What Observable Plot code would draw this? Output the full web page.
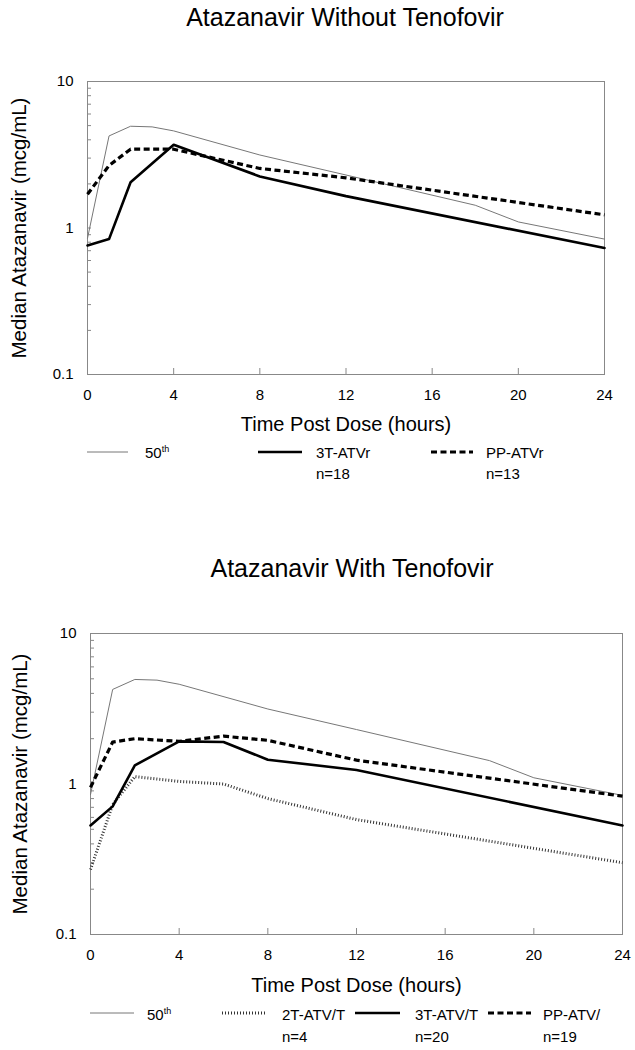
<!DOCTYPE html>
<html><head><meta charset="utf-8">
<script src="https://cdn.jsdelivr.net/npm/d3@7"></script>
<script src="https://cdn.jsdelivr.net/npm/@observablehq/plot@0.6"></script>
<style>
body{margin:0;background:#fff;font-family:"Liberation Sans",Arial,sans-serif;color:#000;}
#page{position:relative;width:635px;height:1050px;overflow:hidden;}
.abs{position:absolute;white-space:nowrap;}
.title{font-size:25px;line-height:30px;text-align:center;}
.leg{font-size:15px;line-height:18px;}
.leg sup{font-size:9px;vertical-align:6px;line-height:0;}
</style></head><body><div id="page"></div>
<script>
// ---- data ----
const time50 = [0, 1, 2, 3, 4, 8, 12, 18, 20, 24];
const p50 = [0.85, 4.25, 4.95, 4.9, 4.6, 3.15, 2.3, 1.43, 1.1, 0.84];

const timeTop = [0, 1, 2, 4, 8, 12, 24];
const atvr3T = [0.76, 0.84, 2.05, 3.7, 2.25, 1.65, 0.73];
const atvrPP = [1.7, 2.67, 3.45, 3.45, 2.55, 2.2, 1.23];

const timeBot = [0, 1, 2, 4, 6, 8, 12, 24];
const atvt2T = [0.27, 0.73, 1.12, 1.04, 1.0, 0.8, 0.58, 0.3];
const atvt3T = [0.53, 0.71, 1.33, 1.92, 1.9, 1.45, 1.24, 0.53];
const atvtPP = [0.95, 1.9, 2.0, 1.92, 2.08, 1.95, 1.44, 0.83];

const xTickLabels = [0, 4, 8, 12, 16, 20, 24];
const xInnerTicks = [4, 8, 12, 16, 20];
const yTickLabels = [0.1, 1, 10];
const yMinorTicks = [0.2,0.3,0.4,0.5,0.6,0.7,0.8,0.9,1,2,3,4,5,6,7,8,9];

const titles = ["Atazanavir Without Tenofovir", "Atazanavir With Tenofovir"];
const xLabel = "Time Post Dose (hours)";
const yLabel = "Median Atazanavir (mcg/mL)";

// ---- styles ----
const styles = {
  p50: {stroke: "#777", strokeWidth: 1},
  solid: {stroke: "#000", strokeWidth: 2.6},
  dashed: {stroke: "#000", strokeWidth: 3.2, strokeDasharray: "6,3.5", strokeLinecap: "butt"},
  dotted: {stroke: "#333", strokeWidth: 3, strokeDasharray: "1,2", strokeLinecap: "butt"}
};

const zip = (ts, vs) => ts.map((t, i) => ({t, v: vs[i]}));

const page = document.getElementById("page");

function addDiv(cls, html, css) {
  const d = document.createElement("div");
  d.className = "abs " + cls;
  d.innerHTML = html;
  Object.assign(d.style, css);
  page.appendChild(d);
  return d;
}

function chart({series, top, height, mt, mb, ml, mr, yLabelDx, xLabelDy}) {
  const marks = [
    Plot.frame({stroke: "#888"}),
    Plot.axisX({ticks: xInnerTicks, tickSize: 6, dy: -6, stroke: "#888", tickFormat: () => "", label: null}),
    Plot.axisY({ticks: yMinorTicks, tickSize: 4, dx: 4, stroke: "#888", tickFormat: () => "", label: null}),
    Plot.axisX({ticks: xTickLabels, tickSize: 0, tickPadding: 15, fontSize: 15, label: null, tickFormat: d => String(d)}),
    Plot.axisY({ticks: yTickLabels, tickSize: 0, tickPadding: 14, fontSize: 15, label: null, tickFormat: d => String(d)}),
    ...series.map(s => Plot.line(zip(s.t, s.v), {x: "t", y: "v", ...styles[s.style]})),
    Plot.text([yLabel], {text: d => d, frameAnchor: "left", dx: yLabelDx, rotate: -90, fontSize: 20.5, textAnchor: "middle", lineAnchor: "middle"}),
    Plot.text([xLabel], {text: d => d, frameAnchor: "bottom", dy: xLabelDy, fontSize: 20, textAnchor: "middle", lineAnchor: "middle"})
  ];
  const svg = Plot.plot({
    width: 635, height,
    marginTop: mt, marginBottom: mb, marginLeft: ml, marginRight: mr,
    style: {fontFamily: '"Liberation Sans", Arial, sans-serif', background: "transparent", color: "#000", overflow: "visible"},
    x: {domain: [0, 24], label: null},
    y: {type: "log", domain: [0.1, 10], label: null},
    marks
  });
  svg.style.position = "absolute";
  svg.style.left = "0px";
  svg.style.top = top + "px";
  page.appendChild(svg);
}

function swatch(style, x1, x2) {
  const s = styles[style];
  const w = x2 - x1;
  return `<svg width="${w}" height="6" style="display:block"><line x1="0" x2="${w}" y1="3" y2="3" stroke="${s.stroke}" stroke-width="${s.strokeWidth}" ${s.strokeDasharray ? `stroke-dasharray="${s.strokeDasharray}"` : ""}/></svg>`;
}

function legend(items, lineY, row1Top, row2Top) {
  for (const it of items) {
    addDiv("", swatch(it.style, it.x1, it.x2), {left: it.x1 + "px", top: (lineY - 3) + "px"});
    addDiv("leg", it.label, {left: it.tx + "px", top: row1Top + "px"});
    if (it.n) addDiv("leg", it.n, {left: it.tx + "px", top: row2Top + "px"});
  }
}

// ---- top chart ----
addDiv("title", titles[0], {left: "45px", width: "600px", top: "2px"});
chart({
  series: [
    {t: time50, v: p50, style: "p50"},
    {t: timeTop, v: atvrPP, style: "dashed"},
    {t: timeTop, v: atvr3T, style: "solid"}
  ],
  top: 60, height: 380, mt: 21, mb: 66, ml: 87, mr: 31, yLabelDx: -68, xLabelDy: 50
});
legend([
  {style: "p50", x1: 87, x2: 128, tx: 145, label: "50<sup>th</sup>"},
  {style: "solid", x1: 258, x2: 302, tx: 316, label: "3T-ATVr", n: "n=18"},
  {style: "dashed", x1: 431, x2: 473, tx: 486, label: "PP-ATVr", n: "n=13"}
], 452, 444, 465);

// ---- bottom chart ----
addDiv("title", titles[1], {left: "52px", width: "600px", top: "553px"});
chart({
  series: [
    {t: time50, v: p50, style: "p50"},
    {t: timeBot, v: atvt2T, style: "dotted"},
    {t: timeBot, v: atvtPP, style: "dashed"},
    {t: timeBot, v: atvt3T, style: "solid"}
  ],
  top: 600, height: 400, mt: 33, mb: 66, ml: 90, mr: 13, yLabelDx: -70, xLabelDy: 51
});
legend([
  {style: "p50", x1: 90, x2: 134, tx: 147, label: "50<sup>th</sup>"},
  {style: "dotted", x1: 222, x2: 265, tx: 282, label: "2T-ATV/T", n: "n=4"},
  {style: "solid", x1: 355, x2: 400, tx: 415, label: "3T-ATV/T", n: "n=20"},
  {style: "dashed", x1: 488, x2: 531, tx: 543, label: "PP-ATV/", n: "n=19"}
], 1013, 1006, 1028);
</script></body></html>
